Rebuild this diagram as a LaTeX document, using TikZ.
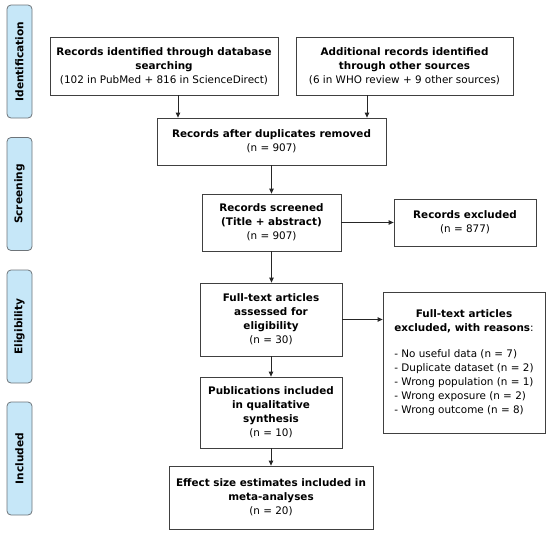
\documentclass[tikz,border=0pt]{standalone}
\usepackage{fontspec}
\setmainfont{DejaVu Sans}
\usetikzlibrary{arrows.meta}
\definecolor{stagefill}{HTML}{C6E7F8}
\definecolor{stageline}{HTML}{6E7479}
\tikzset{
  box/.style={draw=black!75, line width=0.8pt, align=center, inner sep=2pt,
    font=\fontsize{10.4}{14}\selectfont},
  stage/.style={draw=stageline, fill=stagefill, rounded corners=4pt, line width=0.8pt,
    minimum width=113pt, minimum height=25pt, rotate=90, inner sep=1pt,
    font=\fontsize{10.6}{12}\selectfont\bfseries},
  arr/.style={-{Triangle[length=5pt,width=4.5pt]}, line width=0.8pt, draw=black!85}
}
\begin{document}
\begin{tikzpicture}[x=1pt,y=-1pt]
\useasboundingbox (0,0) rectangle (550,536);
% phases
\node[stage] (ident) at (19.5,61.5) {Identification};
\node[stage] (screen) at (19.5,194) {Screening};
\node[stage] (elig) at (19.5,326.5) {Eligibility};
\node[stage] (incl) at (19.5,458.5) {Included};
% flow boxes
\node[box, minimum width=228pt, minimum height=58pt] (db) at (164,66)
  {\textbf{Records identified through database}\\\textbf{searching}\\(102 in PubMed + 816 in ScienceDirect)};
\node[box, minimum width=217pt, minimum height=58pt] (other) at (404.5,66)
  {\textbf{Additional records identified}\\\textbf{through other sources}\\(6 in WHO review + 9 other sources)};
\node[box, minimum width=229pt, minimum height=47pt] (dup) at (271.5,141.5)
  {\textbf{Records after duplicates removed}\\(n = 907)};
\node[box, minimum width=139pt, minimum height=57pt] (scr) at (271.5,222.5)
  {\textbf{Records screened}\\\textbf{(Title + abstract)}\\(n = 907)};
\node[box, minimum width=142pt, minimum height=47pt] (exc) at (465,222.5)
  {\textbf{Records excluded}\\(n = 877)};
\node[box, minimum width=142pt, minimum height=73pt] (full) at (271,319.5)
  {\textbf{Full-text articles}\\\textbf{assessed for}\\\textbf{eligibility}\\(n = 30)};
\node[box, minimum width=162pt, minimum height=141pt] (rsn) at (464,362.5)
  {\begin{tabular}{@{}l@{}}
    \multicolumn{1}{@{}c@{}}{\textbf{Full-text articles}}\\
    \multicolumn{1}{@{}c@{}}{\textbf{excluded, with reasons}:}\\[12pt]
    - No useful data (n = 7)\\
    - Duplicate dataset (n = 2)\\
    - Wrong population (n = 1)\\
    - Wrong exposure (n = 2)\\
    - Wrong outcome (n = 8)
  \end{tabular}};
\node[box, minimum width=142pt, minimum height=71pt] (pub) at (271,412.5)
  {\textbf{Publications included}\\\textbf{in qualitative}\\\textbf{synthesis}\\(n = 10)};
\node[box, minimum width=204pt, minimum height=63pt] (eff) at (271,497.5)
  {\textbf{Effect size estimates included in}\\\textbf{meta-analyses}\\(n = 20)};
% arrows
\draw[arr] ([xshift=14pt]db.south) -- ([xshift=14pt]db.south |- dup.north);
\draw[arr] ([xshift=-37.5pt]other.south) -- ([xshift=-37.5pt]other.south |- dup.north);
\draw[arr] (dup.south) -- (dup.south |- scr.north);
\draw[arr] (scr.east) -- (exc.west);
\draw[arr] (scr.south) -- (scr.south |- full.north);
\draw[arr] (full.east) -- (full.east -| rsn.west);
\draw[arr] (full.south) -- (pub.north);
\draw[arr] (pub.south) -- (eff.north);
\end{tikzpicture}
\end{document}
